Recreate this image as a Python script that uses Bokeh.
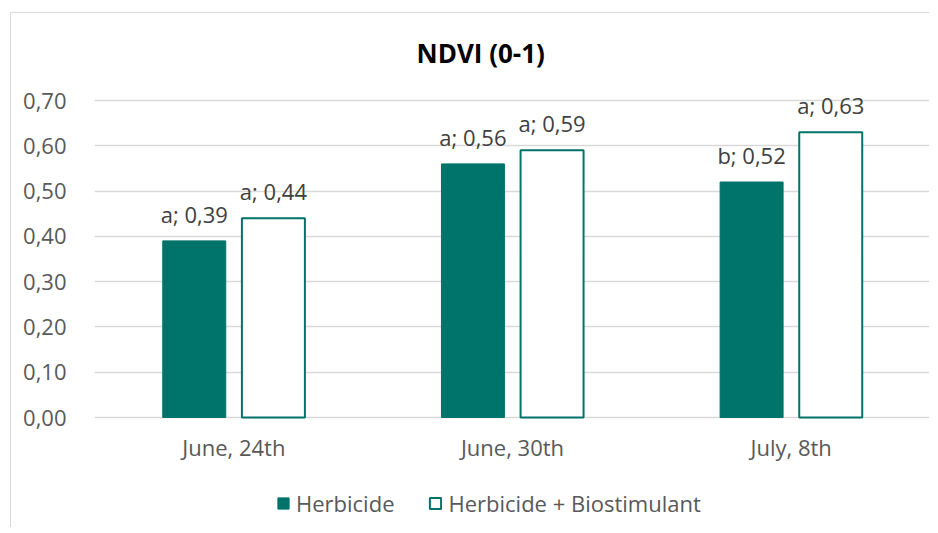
from bokeh.plotting import figure
from bokeh.models import (ColumnDataSource, FactorRange, Range1d, FixedTicker,
                          LabelSet, Legend, LegendItem)
from bokeh.core.properties import value
from bokeh.transform import dodge
from bokeh.embed import file_html
from bokeh.resources import INLINE

# ---- data ----
categories = ["June, 24th", "June, 30th", "July, 8th"]
herbicide = [0.39, 0.56, 0.52]
herbicide_bio = [0.44, 0.59, 0.63]
letters_herbicide = ["a", "a", "b"]
letters_herbicide_bio = ["a", "a", "a"]
series_names = ["Herbicide", "Herbicide + Biostimulant"]
y_ticks = [0.0, 0.1, 0.2, 0.3, 0.4, 0.5, 0.6, 0.7]
y_tick_labels = ["0,00", "0,10", "0,20", "0,30", "0,40", "0,50", "0,60", "0,70"]
title_text = "NDVI (0-1)"

TEAL = "#00736A"
FONT = "Open Sans"

# layout in pixels (canvas)
W, H = 919, 515
LEFT = 83
GRID_TOP = 87         # canvas y of the 0,70 gridline
HEADROOM = 26         # frame space above the 0,70 gridline (for data labels)
TOP = GRID_TOP - HEADROOM
PLOT_H = 317          # pixels from 0,70 down to 0,00
BELOW = H - GRID_TOP - PLOT_H  # room under the zero line (category labels + legend)
y_max = y_ticks[-1]
px_per_unit = PLOT_H / y_max
y_min = -BELOW / px_per_unit
y_top = y_max + HEADROOM / px_per_unit


def fmt(letter, v):
    return f"{letter}; {v:.2f}".replace(".", ",")


src = ColumnDataSource(dict(
    cat=categories,
    zero=[0.0] * len(categories),
    h=herbicide,
    hb=herbicide_bio,
    lab_h=[fmt(l, v) for l, v in zip(letters_herbicide, herbicide)],
    lab_hb=[fmt(l, v) for l, v in zip(letters_herbicide_bio, herbicide_bio)],
))

p = figure(x_range=FactorRange(factors=categories, range_padding=0),
           y_range=Range1d(y_min, y_top),
           width=W, height=H,
           output_backend="svg", toolbar_location=None,
           min_border_left=LEFT, min_border_right=0,
           min_border_top=TOP, min_border_bottom=0,
           outline_line_color=None,
           background_fill_color="white", border_fill_color="white",
           styles={"margin-left": "10px", "margin-top": "12px",
                   "border-left": "1.5px solid #d9d9d9",
                   "border-top": "1.5px solid #d9d9d9"})

off = 0.142
bw = 0.226
r1 = p.vbar(x=dodge("cat", -off, range=p.x_range), top="h", width=bw, source=src,
            fill_color=TEAL, line_color=TEAL, line_width=1)
r2 = p.vbar(x=dodge("cat", off, range=p.x_range), top="hb", width=bw, source=src,
            fill_color="white", line_color=TEAL, line_width=2)

for field, lab, sgn in (("h", "lab_h", -1), ("hb", "lab_hb", 1)):
    p.add_layout(LabelSet(x=dodge("cat", sgn * off, range=p.x_range), y=field,
                          text=lab, source=src, text_align="center",
                          text_baseline="alphabetic", y_offset=18,
                          text_font=value(FONT), text_font_size="22px",
                          text_color="#404040"))

# category labels (x axis)
p.add_layout(LabelSet(x="cat", y="zero", text="cat", source=src,
                      text_align="center", text_baseline="alphabetic",
                      y_offset=-38, text_font=value(FONT), text_font_size="22px",
                      text_color="#595959"))
p.xaxis.visible = False

# title
p.title.text = title_text
p.title.text_font = FONT
p.title.text_font_size = "26px"
p.title.text_font_style = "bold"
p.title.text_color = "#000000"
p.title.align = "left"
p.title.offset = 322
p.title.standoff = 7

# y axis and grid
p.yaxis.ticker = FixedTicker(ticks=y_ticks)
p.yaxis.major_label_overrides = dict(zip(y_ticks, y_tick_labels))
p.yaxis.axis_line_color = None
p.yaxis.major_tick_line_color = None
p.yaxis.minor_tick_line_color = None
p.yaxis.major_label_standoff = 22
p.yaxis.major_label_text_font = FONT
p.yaxis.major_label_text_font_size = "22px"
p.yaxis.major_label_text_color = "#595959"

p.xgrid.grid_line_color = None
p.ygrid.grid_line_color = "#d9d9d9"
p.ygrid.grid_line_width = 1.5

legend = Legend(items=[LegendItem(label=series_names[0], renderers=[r1]),
                       LegendItem(label=series_names[1], renderers=[r2])],
                location=(182, 10), orientation="horizontal",
                glyph_width=14, glyph_height=14, label_standoff=6, spacing=34,
                padding=0, margin=0, border_line_color=None,
                background_fill_alpha=0,
                label_text_font=FONT, label_text_font_size="22px",
                label_text_color="#595959")
p.add_layout(legend, "center")

open("out.html", "w").write(file_html(p, INLINE))
